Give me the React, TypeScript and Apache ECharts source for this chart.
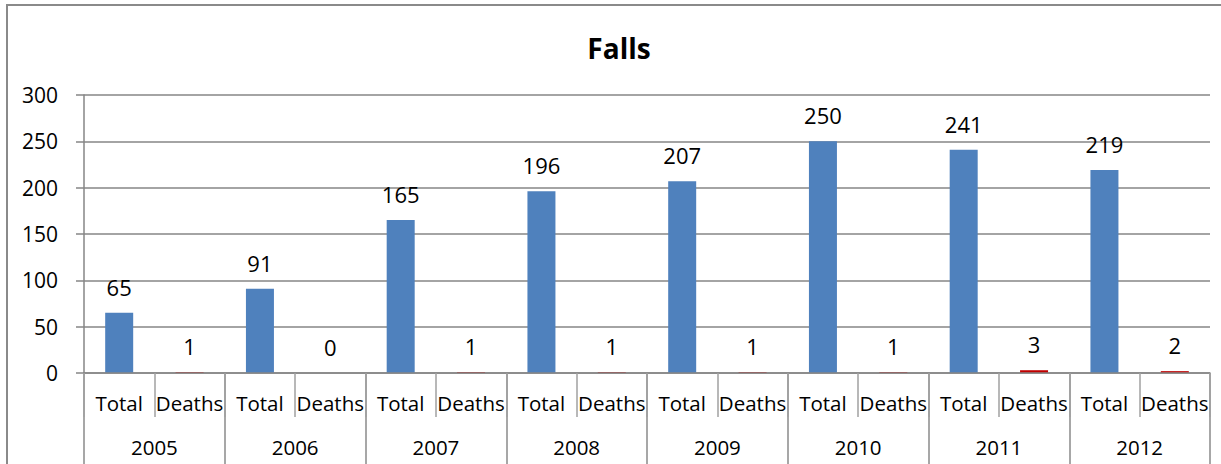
import React, { useEffect, useRef } from "react";
import * as echarts from "echarts";

const years = ["2005", "2006", "2007", "2008", "2009", "2010", "2011", "2012"];
const subCats = ["Total", "Deaths"];
const totals = [65, 91, 165, 196, 207, 250, 241, 219];
const deaths = [1, 0, 1, 1, 1, 1, 3, 2];

const FONT = "'Open Sans', 'Noto Sans', sans-serif";

export default function App() {
  const ref = useRef<HTMLDivElement>(null);
  useEffect(() => {
    if (!ref.current) return;
    const chart = echarts.init(ref.current, undefined, { renderer: "svg" });
    const cats: string[] = [];
    const data: any[] = [];
    years.forEach((y, i) => {
      cats.push(subCats[0]);
      cats.push(subCats[1]);
      data.push({ value: totals[i], itemStyle: { color: "#4F81BD" } });
      data.push({ value: deaths[i], itemStyle: { color: "#C00000" } });
    });
    chart.setOption({
      animation: false,
      textStyle: { fontFamily: FONT },
      title: {
        text: "Falls",
        left: 614,
        textAlign: "center",
        top: 29,
        textStyle: { fontFamily: FONT, fontSize: 28, fontWeight: "bold", color: "#000" },
      },
      graphic: [
        {
          type: "rect",
          shape: { x: 7, y: 5, width: 1240, height: 520 },
          style: { fill: "none", stroke: "#8a8a8a", lineWidth: 2 },
          silent: true,
        },
      ],
      grid: { left: 84, right: 11, top: 95, bottom: 91 },
      xAxis: [
        {
          type: "category",
          data: cats,
          z: 5,
          axisLine: { show: true, lineStyle: { color: "#868686", width: 1.5 } },
          axisTick: { show: true, interval: 0, length: 44, lineStyle: { color: "#a0a0a0", width: 1.5 } },
          axisLabel: { interval: 0, margin: 19, fontSize: 20.5, color: "#000", fontFamily: FONT },
        },
        {
          type: "category",
          data: years,
          position: "bottom",
          axisLine: { show: false },
          axisTick: { show: true, interval: 0, length: 95, lineStyle: { color: "#8a8a8a", width: 1.5 } },
          axisLabel: { interval: 0, margin: 63, fontSize: 20.5, color: "#000", fontFamily: FONT },
        },
      ],
      yAxis: {
        type: "value",
        min: 0,
        max: 300,
        interval: 50,
        axisLine: { show: true, lineStyle: { color: "#868686", width: 1.5 } },
        axisTick: { show: true, length: 8, lineStyle: { color: "#868686", width: 1.5 } },
        splitLine: { show: true, lineStyle: { color: "#868686", width: 1.5 } },
        axisLabel: { margin: 26, fontSize: 21, color: "#000", fontFamily: FONT },
      },
      series: [
        {
          type: "bar",
          xAxisIndex: 0,
          data,
          barWidth: 28,
          label: {
            show: true,
            position: "top",
            distance: 15,
            fontSize: 22,
            color: "#000",
            fontFamily: FONT,
          },
        },
      ],
    });
    return () => chart.dispose();
  }, []);
  return (
    <div
      ref={ref}
      style={{ position: "fixed", left: 0, top: 0, width: 1221, height: 464, background: "#fff" }}
    />
  );
}
